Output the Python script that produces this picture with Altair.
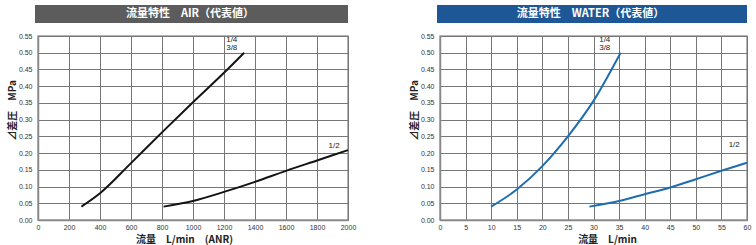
import altair as alt
import pandas as pd

# ---- data ----
air_14_x = [280, 400, 600, 800, 1000, 1200, 1330]
air_14_y = [0.04, 0.08, 0.17, 0.262, 0.352, 0.44, 0.50]
air_12_x = [810, 1000, 1200, 1400, 1600, 1800, 2000]
air_12_y = [0.04, 0.057, 0.084, 0.114, 0.147, 0.178, 0.209]

water_14_x = [10, 15, 20, 25, 30, 35.3]
water_14_y = [0.04, 0.091, 0.161, 0.25, 0.356, 0.50]
water_12_x = [29.2, 35, 40, 45, 50, 55, 60]
water_12_y = [0.04, 0.057, 0.077, 0.097, 0.122, 0.147, 0.171]

air_ticks = [0, 200, 400, 600, 800, 1000, 1200, 1400, 1600, 1800, 2000]
water_ticks = [0, 5, 10, 15, 20, 25, 30, 35, 40, 45, 50, 55, 60]
y_ticks = [0.00, 0.05, 0.10, 0.15, 0.20, 0.25, 0.30, 0.35, 0.40, 0.45, 0.50, 0.55]

air_labels = ["1/4", "3/8", "1/2"]
air_label_x = [1250, 1250, 1910]
air_label_y = [0.538, 0.514, 0.221]
water_labels = ["1/4", "3/8", "1/2"]
water_label_x = [32.2, 32.2, 57.5]
water_label_y = [0.538, 0.514, 0.224]

titles = ["流量特性　AIR（代表値）", "流量特性　WATER（代表値）"]
x_titles = ["流量　L/min　(ANR)", "流量　L/min"]
y_title = "⊿差圧　MPa"

AIR_COLOR = "#141414"
WATER_COLOR = "#1f6db0"
AIR_BAR = "#5c5c5c"
WATER_BAR = "#1d5795"

H = 184


def panel(xs_list, ys_list, lab, labx, laby, ticks, xmax, width, color, bar_color,
          title, xtitle, xtitle_pos):
    rows = []
    for i, (xs, ys) in enumerate(zip(xs_list, ys_list)):
        for x, y in zip(xs, ys):
            rows.append({"x": x, "y": y, "s": i})
    df = pd.DataFrame(rows)
    ldf = pd.DataFrame({"t": lab, "x": labx, "y": laby})

    xsc = alt.Scale(domain=[0, xmax], nice=False)
    ysc = alt.Scale(domain=[0, 0.55], nice=False)

    xaxis = alt.Axis(values=ticks, tickCount=50, grid=True, ticks=False, labelPadding=3, format="d",
                     labelOverlap=False, labelFlush=False,
                     labelFontSize=7, labelFont="Liberation Sans", labelColor="#333",
                     title=xtitle, titleFont="Noto Sans CJK JP", titleFontSize=10,
                     titleFontWeight="bold", titleColor="#222",
                     titleX=xtitle_pos, titleY=19, titleBaseline="middle", titleAlign="center")
    yaxis = alt.Axis(values=y_ticks, tickCount=50, grid=True, ticks=False, labelPadding=6, format=".2f",
                     labelOverlap=False, labelFlush=False,
                     labelFontSize=7, labelFont="Liberation Sans", labelColor="#333",
                     title=y_title, titleFont="Noto Sans CJK JP", titleFontSize=10,
                     titleFontWeight="bold", titleColor="#222",
                     titleX=-26, titleY=74, titleBaseline="middle", titleAlign="center",
                     titleAngle=270)

    bar = alt.Chart(pd.DataFrame({"t": [title]})).mark_rect(color=bar_color).encode(
        x=alt.value(-3), x2=alt.value(width), y=alt.value(-31), y2=alt.value(-13))
    bar_text = alt.Chart(pd.DataFrame({"t": [title]})).mark_text(
        color="white", font="Noto Sans CJK JP", fontSize=11, fontWeight="bold",
        baseline="middle", align="center").encode(
        x=alt.value(width / 2 - 3), y=alt.value(-22), text="t:N")

    lines = alt.Chart(df).mark_line(color=color, strokeWidth=2, interpolate="monotone").encode(
        x=alt.X("x:Q", scale=xsc, axis=xaxis),
        y=alt.Y("y:Q", scale=ysc, axis=yaxis),
        detail="s:N")
    labels = alt.Chart(ldf).mark_text(fontSize=8, font="Liberation Sans", color="#222").encode(
        x=alt.X("x:Q", scale=xsc), y=alt.Y("y:Q", scale=ysc), text="t:N")

    return alt.layer(bar, bar_text, lines, labels).properties(width=width, height=H)


left = panel([air_14_x, air_12_x], [air_14_y, air_12_y], air_labels, air_label_x, air_label_y,
             air_ticks, 2000, 310, AIR_COLOR, AIR_BAR, titles[0], x_titles[0], 146)
right = panel([water_14_x, water_12_x], [water_14_y, water_12_y], water_labels, water_label_x,
              water_label_y, water_ticks, 60, 307, WATER_COLOR, WATER_BAR, titles[1], x_titles[1], 167)

chart = alt.hconcat(left, right, spacing=92, bounds="flush").properties(
    padding={"left": 6, "top": 4, "right": 0, "bottom": 0},
    background="white",
).configure_view(stroke="#9a9a9a", strokeWidth=1.5).configure_axis(
    gridColor="#777777", gridWidth=1, domainColor="#888888", domainWidth=1.5
)

chart.save("out.html", embed_options={"renderer": "svg", "actions": False})
